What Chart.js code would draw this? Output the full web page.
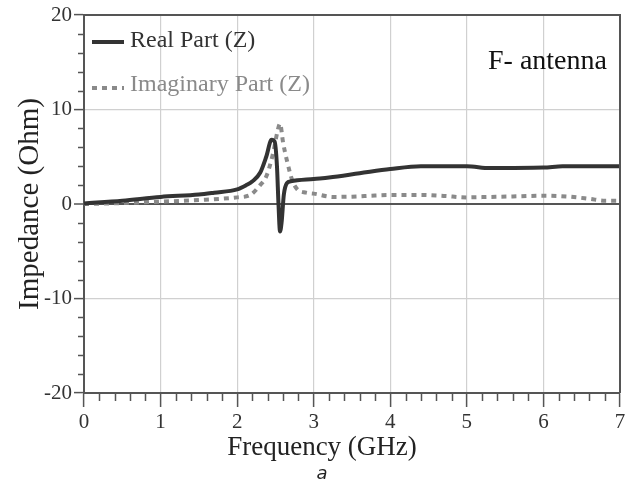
<!DOCTYPE html>
<html>
<head>
<meta charset="utf-8">
<title>F- antenna impedance</title>
<script src="https://cdn.jsdelivr.net/npm/chart.js@4.4.1/dist/chart.umd.min.js"></script>
<style>
  html, body { margin: 0; padding: 0; background: #fff; }
</style>
</head>
<body>
<canvas id="zChart" width="640" height="486"></canvas>
<script>
// values
const freqReal = [0, 0.5, 1.0, 1.5, 1.7, 2.0, 2.12, 2.2, 2.3, 2.38, 2.45, 2.49, 2.52, 2.54, 2.56, 2.58, 2.61, 2.65, 2.7, 3.0, 3.2, 3.6, 4.0, 4.4, 5.0, 5.3, 6.0, 6.25, 7.0];
const realZ    = [0.05, 0.35, 0.75, 1.0, 1.2, 1.55, 2.0, 2.4, 3.3, 5.0, 6.8, 6.6, 4.0, 0, -2.9, -2.0, 1.0, 2.2, 2.4, 2.65, 2.8, 3.25, 3.7, 4.0, 4.0, 3.8, 3.85, 4.0, 4.0];

const freqImag = [0, 0.5, 1.0, 1.5, 2.0, 2.17, 2.3, 2.38, 2.47, 2.53, 2.56, 2.6, 2.65, 2.72, 2.78, 2.9, 3.0, 3.25, 3.5, 3.8, 4.0, 4.4, 4.7, 5.0, 5.3, 5.6, 6.0, 6.3, 6.6, 6.8, 7.0];
const imagZ    = [0, 0.1, 0.25, 0.42, 0.7, 0.95, 2.0, 2.9, 5.4, 7.8, 8.5, 6.5, 4.6, 2.5, 1.6, 1.2, 1.1, 0.75, 0.78, 0.9, 0.95, 0.95, 0.85, 0.7, 0.75, 0.8, 0.88, 0.8, 0.55, 0.35, 0.35];

const seriesNames = ['Real Part (Z)', 'Imaginary Part (Z)'];
const xTicks = [0, 1, 2, 3, 4, 5, 6, 7];
const yTicks = [-20, -10, 0, 10, 20];

const realColor = '#333333';
const imagColor = '#8a8a8a';
const serif = '"Liberation Serif", "Times New Roman", serif';

const toPoints = (xs, ys) => xs.map((x, i) => ({ x: x, y: ys[i] }));

// frame, minor ticks, legend and the annotation
const extrasPlugin = {
  id: 'extras',
  afterDraw(chart) {
    const { ctx, chartArea: a, scales: { x, y } } = chart;
    ctx.save();

    // minor ticks
    ctx.strokeStyle = '#555';
    ctx.lineWidth = 1.5;
    ctx.beginPath();
    for (let v = 0.2; v < 7; v += 0.2) {
      if (Math.abs(v - Math.round(v)) < 0.01) continue;
      const px = Math.round(x.getPixelForValue(v)) + 0.5;
      ctx.moveTo(px, a.bottom);
      ctx.lineTo(px, a.bottom + 8);
    }
    for (let v = -18; v < 20; v += 2) {
      if (v % 10 === 0) continue;
      const py = Math.round(y.getPixelForValue(v)) + 0.5;
      ctx.moveTo(a.left, py);
      ctx.lineTo(a.left - 6, py);
    }
    ctx.stroke();

    // top and right frame
    ctx.strokeStyle = '#555';
    ctx.lineWidth = 2;
    ctx.beginPath();
    ctx.moveTo(a.left, a.top);
    ctx.lineTo(a.right, a.top);
    ctx.lineTo(a.right, a.bottom);
    ctx.stroke();

    // legend
    ctx.font = '24px ' + serif;
    ctx.textBaseline = 'middle';
    ctx.textAlign = 'left';
    ctx.lineWidth = 4;
    ctx.strokeStyle = realColor;
    ctx.beginPath();
    ctx.moveTo(a.left + 8, a.top + 27);
    ctx.lineTo(a.left + 40, a.top + 27);
    ctx.stroke();
    ctx.fillStyle = realColor;
    ctx.fillText(seriesNames[0], a.left + 46, a.top + 26);

    ctx.strokeStyle = imagColor;
    ctx.setLineDash([5, 5]);
    ctx.beginPath();
    ctx.moveTo(a.left + 8, a.top + 73);
    ctx.lineTo(a.left + 40, a.top + 73);
    ctx.stroke();
    ctx.setLineDash([]);
    ctx.fillStyle = imagColor;
    ctx.fillText(seriesNames[1], a.left + 46, a.top + 70);

    // annotation
    ctx.font = '28px ' + serif;
    ctx.textBaseline = 'alphabetic';
    ctx.fillStyle = '#111';
    ctx.fillText('F- antenna', a.right - 132, a.top + 54);

    ctx.restore();
  }
};

const ctx = document.getElementById('zChart');
const zChart = new Chart(ctx, {
  type: 'line',
  data: {
    datasets: [
      {
        label: seriesNames[0],
        data: toPoints(freqReal, realZ),
        borderColor: realColor,
        borderWidth: 4,
        pointRadius: 0,
        cubicInterpolationMode: 'monotone',
        fill: false
      },
      {
        label: seriesNames[1],
        data: toPoints(freqImag, imagZ),
        borderColor: imagColor,
        borderWidth: 4,
        borderDash: [5, 5],
        pointRadius: 0,
        cubicInterpolationMode: 'monotone',
        fill: false
      }
    ]
  },
  options: {
    responsive: false,
    animation: false,
    layout: { padding: { left: 24, right: 20, top: 15, bottom: 1 } },
    plugins: {
      legend: { display: false },
      tooltip: { enabled: false },
      title: {
        display: true,
        text: 'Frequency (GHz)',
        position: 'bottom',
        weight: 1000,
        color: '#222',
        font: { family: serif, size: 27, weight: 'normal', lineHeight: '30px' },
        padding: { top: 4, bottom: 0 }
      },
      subtitle: {
        display: true,
        text: 'a',
        position: 'bottom',
        weight: 2000,
        color: '#222',
        font: { family: '"DejaVu Sans", sans-serif', size: 18, style: 'italic', lineHeight: '22px' },
        padding: { top: 0, bottom: 0 }
      }
    },
    scales: {
      x: {
        type: 'linear',
        min: 0,
        max: 7,
        afterBuildTicks: (scale) => { scale.ticks = xTicks.map(v => ({ value: v })); },
        afterFit: (scale) => { scale.height = 36; },
        ticks: {
          autoSkip: false,
          maxRotation: 0,
          padding: 3,
          color: '#333',
          font: { family: serif, size: 21 }
        },
        grid: {
          color: (c) => (c.tick && c.tick.value > 0 && c.tick.value < 7) ? '#d0d0d0' : 'rgba(0,0,0,0)',
          lineWidth: 1.2,
          tickColor: '#555',
          tickLength: 14,
          tickWidth: 1.5
        },
        border: { display: true, color: '#555', width: 2 }
      },
      y: {
        min: -20,
        max: 20,
        afterBuildTicks: (scale) => { scale.ticks = yTicks.map(v => ({ value: v })); },
        afterFit: (scale) => { scale.width = 60; },
        ticks: {
          padding: 2,
          color: '#333',
          font: { family: serif, size: 21 }
        },
        grid: {
          color: (c) => {
            if (!c.tick) return 'rgba(0,0,0,0)';
            if (c.tick.value === 0) return '#555';
            if (Math.abs(c.tick.value) === 10) return '#d0d0d0';
            return 'rgba(0,0,0,0)';
          },
          lineWidth: (c) => (c.tick && c.tick.value === 0) ? 2 : 1.2,
          tickColor: '#555',
          tickLength: 10,
          tickWidth: 1.5
        },
        border: { display: true, color: '#555', width: 2 },
        title: {
          display: true,
          text: 'Impedance (Ohm)',
          color: '#222',
          font: { family: serif, size: 29, lineHeight: '12px' },
          padding: { top: 0, bottom: 0 }
        }
      }
    }
  },
  plugins: [extrasPlugin]
});
</script>
</body>
</html>
